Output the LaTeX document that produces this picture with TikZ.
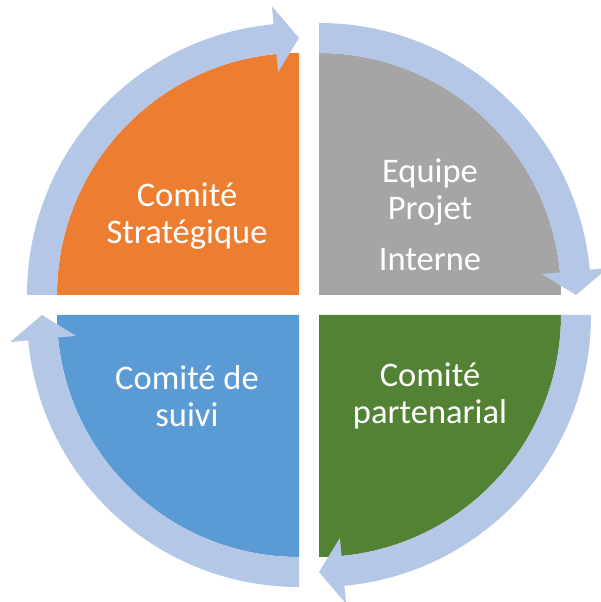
\documentclass[tikz,border=0pt]{standalone}
\usepackage{fontspec}
\setmainfont{Carlito}
\definecolor{quad-orange}{RGB}{237,125,49}
\definecolor{quad-grey}{RGB}{165,165,165}
\definecolor{quad-green}{RGB}{84,130,53}
\definecolor{quad-blue}{RGB}{91,155,213}
\definecolor{ring-blue}{RGB}{180,199,231}

\begin{document}
\begin{tikzpicture}[x=1pt, y=1pt,
          quad/.style={draw=none},
          band/.style={fill=ring-blue, draw=none},
          qtext/.style={
            text=white, align=center, inner sep=0pt,
            font=\fontsize{34.5}{37}\selectfont}
        ]
        \useasboundingbox (0,0) rectangle (601,602);
        \clip (0,0) rectangle (601,602);
        \coordinate (o1) at (299,307);
        \coordinate (o2) at (319,307);
        \coordinate (o3) at (319,287);
        \coordinate (o4) at (299,287);
        % quadrants
        \fill[quad, quad-orange] (o1) -- ++(-242,0) arc[start angle=180, end angle=90, radius=242] -- cycle;
        \fill[quad, quad-grey] (o2) -- ++(0,242) arc[start angle=90, end angle=0, radius=242] -- cycle;
        \fill[quad, quad-green] (o3) -- ++(242,0) arc[start angle=0, end angle=-90, radius=242] -- cycle;
        \fill[quad, quad-blue] (o4) -- ++(0,-242) arc[start angle=-90, end angle=-180, radius=242] -- cycle;
        % ring arrows
        \fill[band] ([shift={(180:272)}]o1) arc[start angle=180, end angle=95.35, radius=272]
          -- ([shift={(95.35:290)}]o1) -- ([shift={(90:257)}]o1) -- ([shift={(95.35:224)}]o1)
          -- ([shift={(95.35:242)}]o1) arc[start angle=95.35, end angle=180, radius=242] -- cycle;
        \fill[band] ([shift={(90:272)}]o2) arc[start angle=90, end angle=5.35, radius=272]
          -- ([shift={(5.35:290)}]o2) -- ([shift={(0:257)}]o2) -- ([shift={(5.35:224)}]o2)
          -- ([shift={(5.35:242)}]o2) arc[start angle=5.35, end angle=90, radius=242] -- cycle;
        \fill[band] ([shift={(0:272)}]o3) arc[start angle=0, end angle=-84.65, radius=272]
          -- ([shift={(-84.65:290)}]o3) -- ([shift={(-90:257)}]o3) -- ([shift={(-84.65:224)}]o3)
          -- ([shift={(-84.65:242)}]o3) arc[start angle=-84.65, end angle=0, radius=242] -- cycle;
        \fill[band] ([shift={(-90:272)}]o4) arc[start angle=-90, end angle=-174.65, radius=272]
          -- ([shift={(-174.65:290)}]o4) -- ([shift={(-180:257)}]o4) -- ([shift={(-174.65:224)}]o4)
          -- ([shift={(-174.65:242)}]o4) arc[start angle=-174.65, end angle=-90, radius=242] -- cycle;
        % texts
        \node[qtext] (strat) at (187,386) {Comité\\Stratégique};
        \node[qtext] (equipe) at (430,387) {Equipe\\Projet\\[14pt]Interne};
        \node[qtext] (partn) at (430,206) {Comité\\partenarial};
        \node[qtext] (suivi) at (187,206) {Comité de\\suivi};
      \end{tikzpicture}
\end{document}
